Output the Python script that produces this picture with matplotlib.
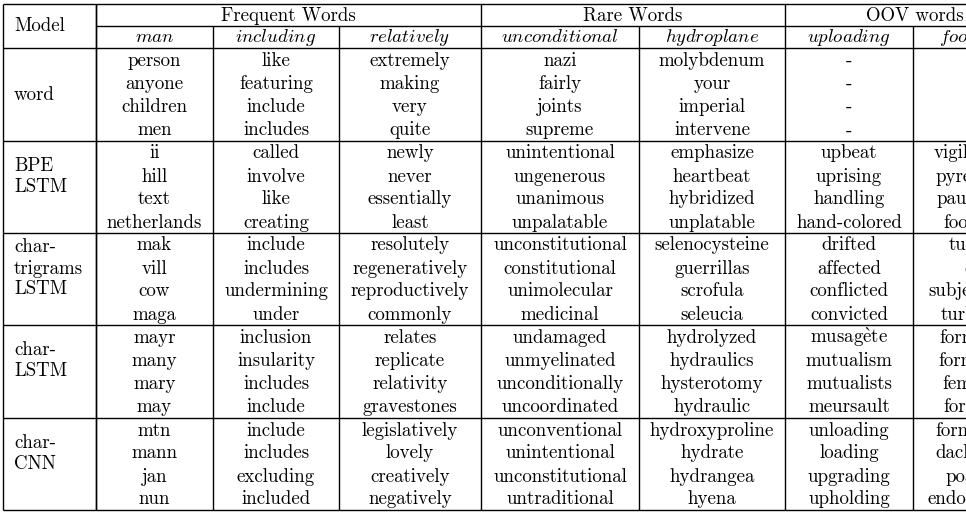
import matplotlib as mpl
import matplotlib.pyplot as plt

# ------------------------------------------------------------
# table content
# ------------------------------------------------------------
group_names  = ["Frequent Words", "Rare Words", "OOV words"]
group_ncols  = [3, 2, 2]
query_words  = ["man", "including", "relatively", "unconditional",
                "hydroplane", "uploading", "footnotes"]

model_names = [
    ["word"],
    ["BPE", "LSTM"],
    ["char-", "trigrams", "LSTM"],
    ["char-", "LSTM"],
    ["char-", "CNN"],
]

# nearest neighbours, one list per query word (column)
nn_word = [
    ["person", "anyone", "children", "men"],
    ["like", "featuring", "include", "includes"],
    ["extremely", "making", "very", "quite"],
    ["nazi", "fairly", "joints", "supreme"],
    ["molybdenum", "your", "imperial", "intervene"],
    ["-", "-", "-", "-"],
    ["-", "-", "-", "-"],
]
nn_bpe = [
    ["ii", "hill", "text", "netherlands"],
    ["called", "involve", "like", "creating"],
    ["newly", "never", "essentially", "least"],
    ["unintentional", "ungenerous", "unanimous", "unpalatable"],
    ["emphasize", "heartbeat", "hybridized", "unplatable"],
    ["upbeat", "uprising", "handling", "hand-colored"],
    ["vigilantism", "pyrethroid", "pauperism", "foodstuff"],
]
nn_trigram = [
    ["mak", "vill", "cow", "maga"],
    ["include", "includes", "undermining", "under"],
    ["resolutely", "regeneratively", "reproductively", "commonly"],
    ["unconstitutional", "constitutional", "unimolecular", "medicinal"],
    ["selenocysteine", "guerrillas", "scrofula", "seleucia"],
    ["drifted", "affected", "conflicted", "convicted"],
    ["tuatara", "qua", "subjectivism", "turbulent"],
]
nn_charlstm = [
    ["mayr", "many", "mary", "may"],
    ["inclusion", "insularity", "includes", "include"],
    ["relates", "replicate", "relativity", "gravestones"],
    ["undamaged", "unmyelinated", "unconditionally", "uncoordinated"],
    ["hydrolyzed", "hydraulics", "hysterotomy", "hydraulic"],
    [r"musag$\grave{\mathrm{e}}$te", "mutualism", "mutualists", "meursault"],
    ["formation", "formalism", "feminism", "forecasts"],
]
nn_charcnn = [
    ["mtn", "mann", "jan", "nun"],
    ["include", "includes", "excluding", "included"],
    ["legislatively", "lovely", "creatively", "negatively"],
    ["unconventional", "unintentional", "unconstitutional", "untraditional"],
    ["hydroxyproline", "hydrate", "hydrangea", "hyena"],
    ["unloading", "loading", "upgrading", "upholding"],
    ["formatting", "dachshund", "poached", "endorsement"],
]
neighbours = [nn_word, nn_bpe, nn_trigram, nn_charlstm, nn_charcnn]

# ------------------------------------------------------------
# layout (pixel units, y down)
# ------------------------------------------------------------
W, H = 966, 514
col_edges   = [3, 96, 213, 339, 481, 639, 785, 913, 1045]
y_top, y_sub, y_head = 3.5, 26, 48
group_edges = [48, 141, 233, 325, 418, 510]
FS = 13.6
LW = 1.0
FONT = "cmr10"

mpl.rcParams.update({
    "mathtext.fontset": "cm",
    "font.family": FONT,
})

fig = plt.figure(figsize=(W / 100, H / 100), dpi=100)
fig.patch.set_facecolor("white")
ax = fig.add_axes([0, 0, 1, 1])
ax.set_xlim(0, W)
ax.set_ylim(H, 0)
ax.axis("off")

def hline(y, x0, x1):
    ax.plot([x0, x1], [y, y], color="black", lw=LW, solid_capstyle="butt")

def vline(x, y0, y1):
    ax.plot([x, x], [y0, y1], color="black", lw=LW, solid_capstyle="butt")

def txt(x, y, s, ha="center"):
    ax.text(x, y, s, ha=ha, va="baseline", fontsize=FS, family=FONT)

x_left, x_right = col_edges[0], col_edges[-1]
y_bot = group_edges[-1]

# horizontal rules
hline(y_top, x_left, x_right)
hline(y_sub, col_edges[1], x_right)
for y in group_edges:
    hline(y, x_left, x_right)

# vertical rules
vline(x_left, y_top, y_bot)
vline(col_edges[1], y_top, y_bot)
k = 1
for n in group_ncols:
    for j in range(n):
        top = y_top if j == 0 else y_sub
        vline(col_edges[k + j], top, y_bot)
    k += n

# header
txt(x_left + 11, 31, "Model", ha="left")
k = 1
for name, n in zip(group_names, group_ncols):
    xc = (col_edges[k] + col_edges[k + n]) / 2
    txt(xc, 21, name)
    k += n

col_centers = [(a + b) / 2 for a, b in zip(col_edges[1:-1], col_edges[2:])]
for xc, q in zip(col_centers, query_words):
    txt(xc, 42.5, r"$\mathit{%s}$" % q)

# body
for g, (label, cols) in enumerate(zip(model_names, neighbours)):
    top, bot = group_edges[g], group_edges[g + 1]
    pitch = (bot - top) / 4
    base = [top + pitch * (i + 0.5) + 6 for i in range(4)]
    for xc, words in zip(col_centers, cols):
        for b, w in zip(base, words):
            txt(xc, b, w)
    # model label
    if len(label) == 1:
        txt(x_left + 11, (top + bot) / 2 + 6, label[0], ha="left")
    else:
        n = len(label)
        for i, line in enumerate(label):
            txt(x_left + 11, base[1] + 21 * (i - (n - 1) / 2), line, ha="left")

fig.savefig("out.png", dpi=100)
